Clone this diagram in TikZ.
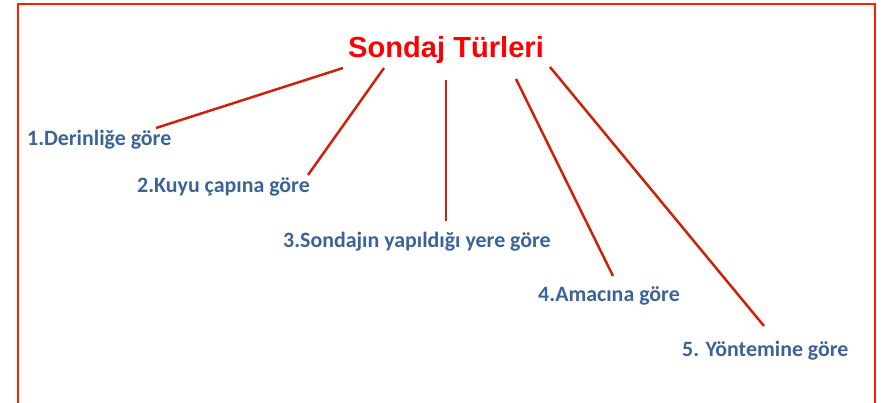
\documentclass[tikz,border=0pt]{standalone}
\usepackage{fontspec}
\setmainfont{Carlito}
\newfontfamily\titlefont{Liberation Sans}
\definecolor{framered}{RGB}{255,32,0}
\definecolor{linered}{RGB}{204,34,10}
\definecolor{labelblue}{RGB}{59,100,150}
\tikzset{
  kind/.style={anchor=base west,inner sep=0pt,text=labelblue,font=\fontsize{21.9}{24}\selectfont\bfseries},
  spoke/.style={color=linered,line width=2.5pt}
}
\begin{document}
\begin{tikzpicture}[x=1pt,y=-1pt]
\useasboundingbox (0,0) rectangle (884,403);
\draw[color=framered,line width=2pt] (17.5,420) -- (17.5,4) -- (875,4) -- (875,420);
\node[anchor=base west,inner sep=0pt,text=red,font=\titlefont\fontsize{29.1}{32}\selectfont\bfseries] (title) at (348,58) {Sondaj Türleri};
\node[kind] (k1) at (27,146) {1.Derinliğe göre};
\node[kind] (k2) at (137,193) {2.Kuyu çapına göre};
\node[kind] (k3) at (283,248) {3.Sondajın yapıldığı yere göre};
\node[kind] (k4) at (538,302) {4.Amacına göre};
\node[kind] (k5) at (682,357) {5. Yöntemine göre};
% line ends near the title
\coordinate (s1) at (343,68);
\coordinate (s2) at (384,68);
\coordinate (s3) at (446,80);
\coordinate (s4) at (516,79);
\coordinate (s5) at (550,67);
% line ends near the labels
\coordinate (e1) at (156,128);
\coordinate (e2) at (308,175);
\coordinate (e3) at (446,221);
\coordinate (e4) at (613,276);
\coordinate (e5) at (764,326);
\foreach \i in {1,...,5} \draw[spoke] (s\i) -- (e\i);
\end{tikzpicture}
\end{document}
